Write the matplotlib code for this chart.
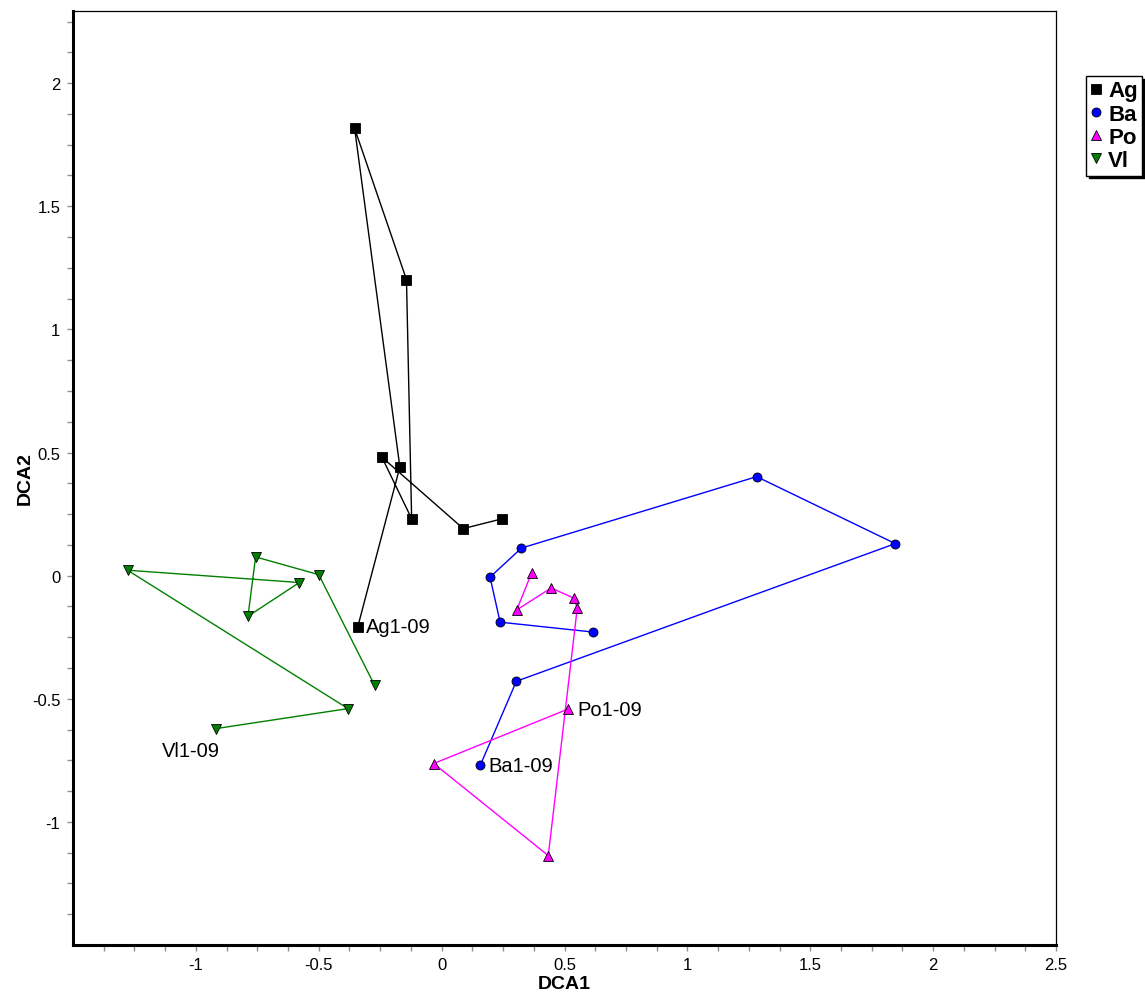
import numpy as np
import matplotlib.pyplot as plt
from matplotlib.ticker import FixedLocator

plt.rcParams['font.family'] = ['Liberation Sans', 'DejaVu Sans']

# DCA site scores, plotted in sampling order (first point = "...1-09")
ag_x = [-0.341, -0.170, -0.354, -0.143, -0.122, -0.243, 0.088, 0.247]
ag_y = [-0.207, 0.441, 1.816, 1.202, 0.231, 0.481, 0.191, 0.231]

ba_x = [0.157, 0.304, 1.846, 1.282, 0.325, 0.197, 0.238, 0.615]
ba_y = [-0.771, -0.429, 0.130, 0.402, 0.112, -0.006, -0.189, -0.229]

po_x = [0.514, -0.032, 0.434, 0.552, 0.537, 0.446, 0.306, 0.366]
po_y = [-0.542, -0.763, -1.137, -0.131, -0.091, -0.050, -0.139, 0.011]

vl_x = [-0.917, -0.381, -1.278, -0.579, -0.788, -0.757, -0.500, -0.273]
vl_y = [-0.621, -0.540, 0.022, -0.028, -0.165, 0.076, 0.004, -0.445]

x_ticks = [-1, -0.5, 0, 0.5, 1, 1.5, 2, 2.5]
y_ticks = [-1, -0.5, 0, 0.5, 1, 1.5, 2]

fig = plt.figure(figsize=(11.45, 9.95), dpi=100)
ax = fig.add_axes([73 / 1145, 1 - 946 / 995, 983 / 1145, 934 / 995])

series = [
    ("Ag", ag_x, ag_y, "s", "black", 7),
    ("Ba", ba_x, ba_y, "o", "#0000ff", 6.5),
    ("Po", po_x, po_y, "^", "#ff00ff", 7.5),
    ("Vl", vl_x, vl_y, "v", "#008000", 7.5),
]
for name, xs, ys, mk, col, ms in series:
    ax.plot(xs, ys, color=col, lw=1.0, marker=mk, markersize=ms,
            markerfacecolor=col, markeredgecolor="black", markeredgewidth=0.6,
            label=name)

# labels for first sample of each site
lab_kw = dict(textcoords="offset points", fontsize=14.5, va="center")
ax.annotate("Ag1-09", (ag_x[0], ag_y[0]), xytext=(6, 0), ha="left", **lab_kw)
ax.annotate("Ba1-09", (ba_x[0], ba_y[0]), xytext=(6, 0), ha="left", **lab_kw)
ax.annotate("Po1-09", (po_x[0], po_y[0]), xytext=(7, 0), ha="left", **lab_kw)
ax.annotate("Vl1-09", (vl_x[0], vl_y[0]), xytext=(-18, -16), ha="center", **lab_kw)

ax.set_xlim(-1.5, 2.5)
ax.set_ylim(-1.5, 2.293)
ax.xaxis.set_major_locator(FixedLocator(x_ticks))
ax.yaxis.set_major_locator(FixedLocator(y_ticks))
ax.xaxis.set_minor_locator(FixedLocator(np.arange(-1.375, 2.5, 0.125)))
ax.yaxis.set_minor_locator(FixedLocator(np.arange(-1.375, 2.29, 0.125)))
ax.set_xticklabels([f"{t:g}" for t in x_ticks])
ax.set_yticklabels([f"{t:g}" for t in y_ticks])
ax.tick_params(which="both", direction="out", length=4, width=1,
               color="#909090", labelsize=12, pad=5)

ax.spines["left"].set_linewidth(2.2)
ax.spines["bottom"].set_linewidth(2.2)
ax.spines["top"].set_linewidth(0.9)
ax.spines["right"].set_linewidth(0.9)

ax.set_xlabel("DCA1", fontsize=14, fontweight="bold", labelpad=2)
ax.set_ylabel("DCA2", fontsize=14, fontweight="bold", labelpad=-1)

leg = fig.legend(loc="upper left", bbox_to_anchor=(1086 / 1145, 1 - 77 / 995),
                 frameon=True, fancybox=False,
                 shadow={"color": "black", "alpha": 1.0},
                 edgecolor="black",
                 prop={"weight": "bold", "size": 16}, handlelength=0.5,
                 handletextpad=0.3, borderpad=0.2, labelspacing=0.1,
                 borderaxespad=0, markerscale=1.0)
for h in leg.legend_handles:
    h.set_linestyle("none")
leg.get_frame().set_linewidth(1.0)

plt.savefig("out.png", dpi=100)
